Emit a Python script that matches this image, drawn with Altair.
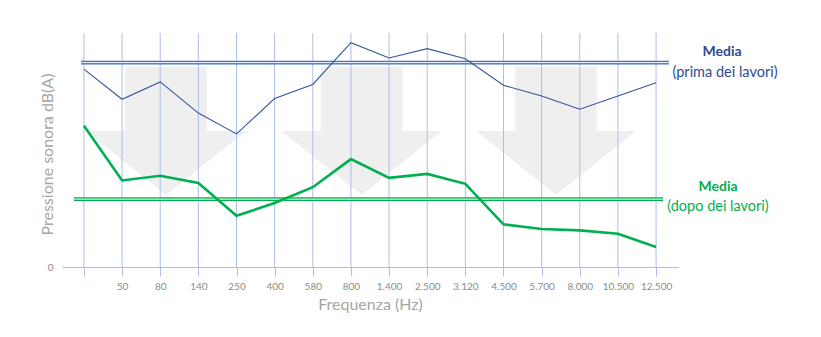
import altair as alt
import pandas as pd

# ---------------- data ----------------
freq_labels = ["", "50", "80", "140", "250", "400", "580", "800", "1.400",
               "2.500", "3.120", "4.500", "5.700", "8.000", "10.500", "12.500"]
before_db = [76.1, 64.5, 71.2, 59.2, 51.2, 64.8, 70.2, 86.3,
             80.4, 84.0, 80.1, 69.9, 65.8, 60.7, 65.8, 70.9]
after_db = [54.3, 33.3, 35.1, 32.3, 19.7, 24.6, 30.7, 41.5,
            34.3, 35.8, 32.0, 16.4, 14.6, 14.1, 12.8, 7.7]
media_before = 78.6
media_after = 26.1
legend_titles = ["Media", "Media"]
legend_subtitles = ["(prima dei lavori)", "(dopo dei lavori)"]

# ---------------- styles ----------------
FONT = "Lato"
BLUE_LINE = "#34569c"
BLUE_MEDIA = "#4472c4"
BLUE_TEXT = "#2f4a8f"
GREEN = "#00b050"
GRID = "#a9bfe8"
ARROW_FILL = "#efefef"
ARROW_PATH = "M -0.51 -0.8 L 0.51 -0.8 L 0.51 0 L 1 0 L 0 0.8 L -1 0 L -0.51 0 Z"
arrow_px = [(104, 98), (299.5, 98), (494, 98)]

df = pd.DataFrame({
    "idx": list(range(len(freq_labels))),
    "before": before_db,
    "after": after_db,
})

label_expr = "[" + ",".join("'" + s + "'" for s in freq_labels) + "][datum.value]"

x_enc = alt.X(
    "idx:O",
    scale=alt.Scale(type="point", padding=0.575),
    axis=alt.Axis(
        title="Frequenza (Hz)", labelExpr=label_expr, labelAngle=0,
        grid=False, domainColor=GRID, tickColor=GRID, tickSize=9,
        labelPadding=5, labelFontSize=10, labelColor="#8c8c8c",
        labelFont=FONT, titleFont=FONT, titleFontSize=16,
        titleFontWeight="normal", titleColor="#a6a6a6", titlePadding=5,
    ),
)
y_scale = alt.Scale(domain=[0, 90], nice=False)
y_axis = alt.Axis(
    title="Pressione sonora dB(A)", values=[0], grid=False, domain=False,
    ticks=False, labelPadding=9, labelFontSize=10, labelColor="#8c8c8c",
    labelFont=FONT, titleFont=FONT, titleFontSize=16, titleFontWeight="normal",
    titleColor="#a6a6a6", titleAngle=270, titleX=-15, titleY=121,
    titleAlign="center", titleBaseline="middle",
)

base = alt.Chart(df)
one = alt.Data(values=[{"k": 0}])

layers = []
# decorative arrows
for ax, ay in arrow_px:
    layers.append(
        alt.Chart(one).mark_point(
            shape=ARROW_PATH, size=25600, filled=True, fill=ARROW_FILL,
            opacity=1, strokeWidth=0,
        ).encode(x=alt.value(ax), y=alt.value(ay))
    )

# vertical gridlines (full height, drawn over the arrows)
layers.append(base.mark_rule(color=GRID, strokeWidth=1).encode(x=x_enc))

# media double lines
for val, col, x1, x2 in [(media_before, BLUE_MEDIA, 19, 607), (media_after, GREEN, 12, 601)]:
    layers.append(
        alt.Chart(one).mark_rule(color=col, strokeWidth=3.8).encode(
            x=alt.value(x1), x2=alt.value(x2), y=alt.datum(val, scale=y_scale)
        )
    )
    layers.append(
        alt.Chart(one).mark_rule(color="white", strokeWidth=1.0).encode(
            x=alt.value(x1 - 1), x2=alt.value(x2 + 1), y=alt.datum(val)
        )
    )

# data lines
layers.append(base.mark_line(color=BLUE_LINE, strokeWidth=1.1).encode(
    x=x_enc, y=alt.Y("before:Q", scale=y_scale, axis=y_axis)))
layers.append(base.mark_line(color=GREEN, strokeWidth=2.6).encode(
    x=x_enc, y=alt.Y("after:Q")))

# legend-like texts
text_specs = [
    (legend_titles[0], 660, 19, BLUE_TEXT, "bold", 14),
    (legend_subtitles[0], 663, 40, BLUE_TEXT, "normal", 14.5),
    (legend_titles[1], 656, 154, GREEN, "bold", 14),
    (legend_subtitles[1], 656, 174, GREEN, "normal", 14.5),
]
for txt, tx, ty, col, fw, fs in text_specs:
    layers.append(
        alt.Chart(one).mark_text(
            text=txt, color=col, fontWeight=fw, fontSize=fs, font=FONT,
            align="center", baseline="middle",
        ).encode(x=alt.value(tx), y=alt.value(ty))
    )

chart = alt.layer(*layers).properties(
    width=616, height=234,
    autosize=alt.AutoSizeParams(type="none"),
    padding={"left": 62, "top": 33, "right": 143, "bottom": 70},
    background="white",
).configure_view(stroke=None)

chart.save("out.html", embed_options={"renderer": "svg", "actions": False})
